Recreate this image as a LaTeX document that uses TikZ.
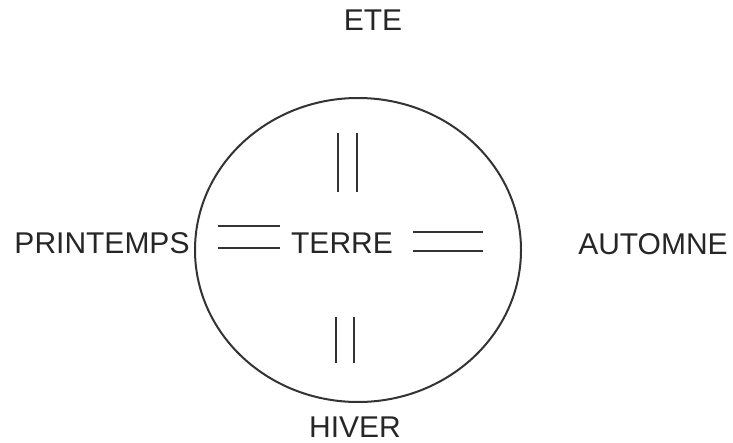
\documentclass[tikz,border=0pt]{standalone}
\usepackage{fontspec}
\setmainfont{Liberation Sans}
\usetikzlibrary{shapes.geometric,positioning}

\begin{document}
\begin{tikzpicture}[x=0.5pt,y=-0.5pt,
    season/.style={font=\fontsize{15}{18}\selectfont,inner sep=0pt,text=black!85},
    bar/.style={line width=0.8pt,black!80}]

            \useasboundingbox (0,0) rectangle (733,443);

            \node[draw=black!80,ellipse,line width=1pt,minimum width=163pt,minimum height=152pt,inner sep=0pt] (globe) at (358,250) {};

            \node[season] (terre) at (342,243) {TERRE};
            \node[season] (ete) at (373,20) {ETE};
            \node[season] (printemps) at (102,243) {PRINTEMPS};
            \node[season] (automne) at (653,244) {AUTOMNE};
            \node[season] (hiver) at (355,427) {HIVER};

            % equal signs round the earth
            \draw[bar] (338,133) -- (338,192) (357,133) -- (357,192);
            \draw[bar] (336,317) -- (336,363) (354,317) -- (354,363);
            \draw[bar] (218,226) -- (280,226) (218,248) -- (280,248);
            \draw[bar] (413,232) -- (483,232) (413,251) -- (483,251);

        \end{tikzpicture}
\end{document}
